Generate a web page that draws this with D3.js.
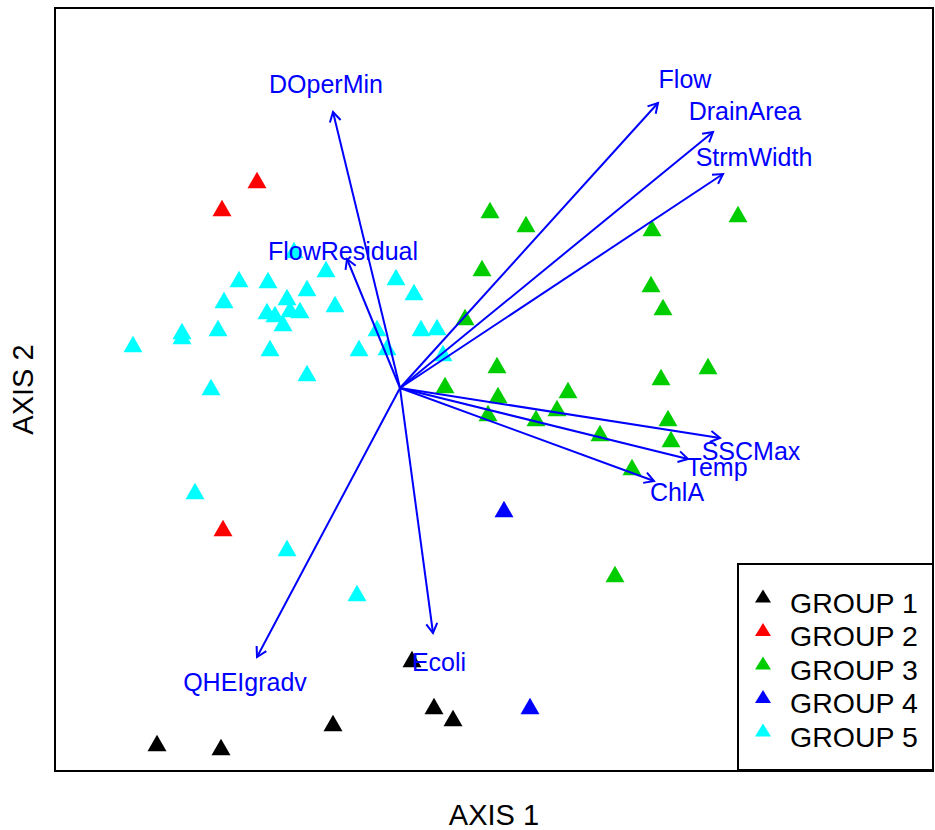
<!DOCTYPE html>
<html>
<head>
<meta charset="utf-8">
<script src="https://cdnjs.cloudflare.com/ajax/libs/d3/7.8.5/d3.min.js"></script>
<style>
  body { margin: 0; background: #fff; }
  text { font-family: "Liberation Sans", Arial, sans-serif; }
</style>
</head>
<body>
<div id="chart"></div>
<script>
// Site scores per group (axis 1, axis 2)
const group1 = [[-0.972, -1.420], [-0.716, -1.436], [-0.268, -1.340], [0.048, -1.084], [0.136, -1.272], [0.212, -1.320]];
const group2 = [[-0.572, 0.832], [-0.712, 0.720], [-0.708, -0.560]];
const group3 = [[0.360, 0.712], [0.504, 0.656], [0.328, 0.480], [1.008, 0.640], [1.352, 0.696], [1.004, 0.416],
  [1.052, 0.324], [0.260, 0.284], [0.388, 0.092], [0.180, 0.012], [0.392, -0.028], [0.672, -0.008],
  [1.232, 0.088], [1.044, 0.044], [0.352, -0.100], [0.628, -0.080], [0.544, -0.120], [1.072, -0.120],
  [0.800, -0.180], [1.084, -0.204], [0.928, -0.316], [0.860, -0.744]];
const group4 = [[0.416, -0.484], [0.520, -1.272]];
const group5 = [[-1.068, 0.176], [-0.872, 0.228], [-0.872, 0.208], [-0.728, 0.240], [-0.704, 0.352], [-0.644, 0.436],
  [-0.756, 0.004], [-0.528, 0.432], [-0.520, 0.160], [-0.532, 0.308], [-0.500, 0.296], [-0.452, 0.364],
  [-0.440, 0.316], [-0.400, 0.312], [-0.468, 0.260], [-0.372, 0.400], [-0.372, 0.060], [-0.296, 0.476],
  [-0.260, 0.336], [-0.424, 0.552], [-0.164, 0.160], [-0.092, 0.240], [-0.052, 0.164], [-0.016, 0.444],
  [0.056, 0.384], [0.084, 0.240], [0.148, 0.244], [0.172, 0.140], [-0.820, -0.412], [-0.452, -0.640],
  [-0.172, -0.820]];

const groupNames = ["GROUP 1", "GROUP 2", "GROUP 3", "GROUP 4", "GROUP 5"];
const groupColors = ["#000000", "#FF0000", "#00CD00", "#0000FF", "#00FFFF"];
const groups = [group1, group2, group3, group4, group5];

// Environmental vectors: arrow tips and label positions
const vectorNames = ["DOperMin", "Flow", "DrainArea", "StrmWidth", "FlowResidual", "SSCMax", "Temp", "ChlA", "QHEIgradv", "Ecoli"];
const vectorTips = [[-0.268, 1.104], [1.032, 1.140], [1.252, 1.024], [1.292, 0.856], [-0.212, 0.516],
  [1.280, -0.200], [1.152, -0.284], [1.016, -0.372], [-0.572, -1.076], [0.132, -0.980]];
const vectorLabels = [[-0.296, 1.216], [1.140, 1.236], [1.380, 1.108], [1.416, 0.924], [-0.228, 0.548],
  [1.404, -0.252], [1.268, -0.316], [1.108, -0.416], [-0.620, -1.176], [0.156, -1.096]];

const xDomain = [-1.38, 2.132];
const yDomain = [-1.532, 1.52];

const margin = { top: 8, right: 2, bottom: 59, left: 55 };
const width = 935 - margin.left - margin.right;
const height = 830 - margin.top - margin.bottom;

const svg = d3.select("#chart").append("svg")
  .attr("width", 935)
  .attr("height", 830);

const g = svg.append("g").attr("transform", `translate(${margin.left},${margin.top})`);

const x = d3.scaleLinear().domain(xDomain).range([0, width]);
const y = d3.scaleLinear().domain(yDomain).range([height, 0]);

// filled triangle like R pch 17
function tri(cx, cy, w, h) {
  return `M${cx},${cy - h / 2}L${cx + w / 2},${cy + h / 2}L${cx - w / 2},${cy + h / 2}Z`;
}

// points
groups.forEach((pts, i) => {
  g.append("g").selectAll("path")
    .data(pts)
    .join("path")
    .attr("d", d => tri(x(d[0]), y(d[1]), 19, 16.5))
    .attr("fill", groupColors[i]);
});

// arrows
const blue = "#0000FF";
const arrows = g.append("g").attr("stroke", blue).attr("stroke-width", 2).attr("fill", "none");
vectorTips.forEach(d => {
  const x0 = x(0), y0 = y(0), x1 = x(d[0]), y1 = y(d[1]);
  arrows.append("line").attr("x1", x0).attr("y1", y0).attr("x2", x1).attr("y2", y1);
  const ang = Math.atan2(y1 - y0, x1 - x0);
  const len = 11, spread = Math.PI / 6;
  arrows.append("path")
    .attr("d", `M${x1 - len * Math.cos(ang - spread)},${y1 - len * Math.sin(ang - spread)}L${x1},${y1}L${x1 - len * Math.cos(ang + spread)},${y1 - len * Math.sin(ang + spread)}`);
});

// vector labels
g.append("g").selectAll("text")
  .data(vectorNames)
  .join("text")
  .attr("x", (d, i) => x(vectorLabels[i][0]))
  .attr("y", (d, i) => y(vectorLabels[i][1]))
  .attr("dy", "0.36em")
  .attr("text-anchor", "middle")
  .attr("fill", blue)
  .style("font-size", "25px")
  .text(d => d);

// plot box
g.append("rect")
  .attr("width", width).attr("height", height)
  .attr("fill", "none").attr("stroke", "#000").attr("stroke-width", 2);

// axis titles
svg.append("text")
  .attr("x", margin.left + width / 2)
  .attr("y", 825)
  .attr("text-anchor", "middle")
  .style("font-size", "29px")
  .text("AXIS 1");

svg.append("text")
  .attr("transform", `translate(33,${margin.top + height / 2}) rotate(-90)`)
  .attr("text-anchor", "middle")
  .style("font-size", "29px")
  .text("AXIS 2");

// legend
const legend = svg.append("g");
legend.append("rect")
  .attr("x", 738).attr("y", 564)
  .attr("width", 195).attr("height", 206)
  .attr("fill", "#fff").attr("stroke", "#000").attr("stroke-width", 2);

groupNames.forEach((name, i) => {
  const rowY = 602 + i * 33.5;
  legend.append("path")
    .attr("d", tri(763, rowY - 6, 16, 13))
    .attr("fill", groupColors[i]);
  legend.append("text")
    .attr("x", 790)
    .attr("y", rowY + 10.5)
    .style("font-size", "28.5px")
    .text(name);
});
</script>
</body>
</html>
